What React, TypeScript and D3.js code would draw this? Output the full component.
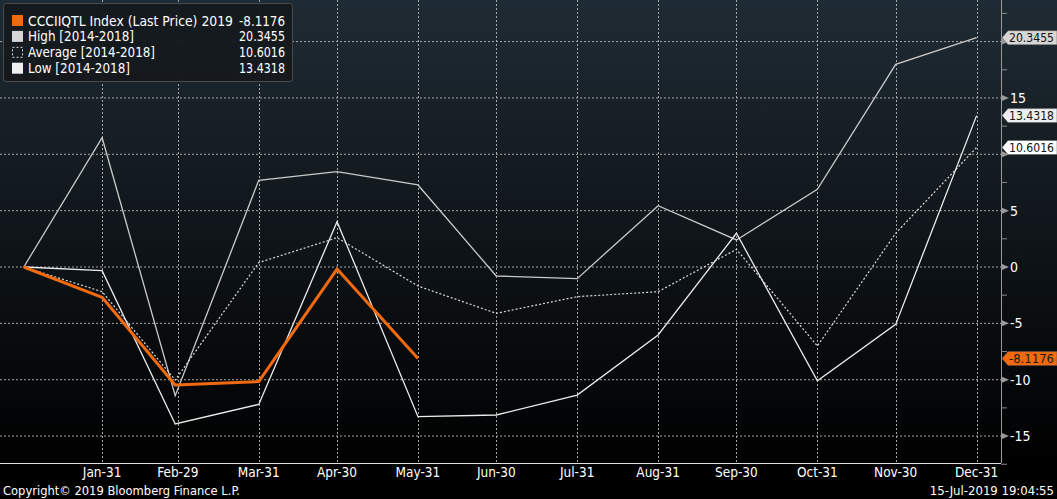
import React from "react";
import * as d3 from "d3";

const pointDates = ["2020-01-01", "2020-01-31", "2020-02-28", "2020-03-31", "2020-04-30", "2020-05-31", "2020-06-30", "2020-07-31", "2020-08-31", "2020-09-30", "2020-10-31", "2020-11-30", "2020-12-31"];
const tickDates = ["2020-01-31", "2020-02-29", "2020-03-31", "2020-04-30", "2020-05-31", "2020-06-30", "2020-07-31", "2020-08-31", "2020-09-30", "2020-10-31", "2020-11-30", "2020-12-31"];
const tickLabels = ["Jan-31", "Feb-29", "Mar-31", "Apr-30", "May-31", "Jun-30", "Jul-31", "Aug-31", "Sep-30", "Oct-31", "Nov-30", "Dec-31"];

const lastPrice = [0, -2.69, -10.47, -10.17, -0.18, -8.1176];
const high = [0, 11.47, -11.42, 7.69, 8.46, 7.28, -0.8, -1.03, 5.44, 2.4, 6.89, 17.98, 20.3455];
const average = [0, -2.19, -10.03, 0.39, 2.6, -1.69, -4.11, -2.63, -2.19, 1.57, -7.01, 2.99, 10.6016];
const low = [0, -0.33, -13.93, -12.19, 4.02, -13.28, -13.13, -11.36, -6.03, 2.99, -10.09, -5.09, 13.4318];

const yMajor = [-15, -10, -5, 0, 5, 10, 15, 20];
const yMinor = [-17.5, -12.5, -7.5, -2.5, 2.5, 7.5, 12.5, 17.5, 22.5];

const legendNames = ["CCCIIQTL Index (Last Price) 2019", "High [2014-2018]", "Average [2014-2018]", "Low [2014-2018]"];
const legendValues = ["-8.1176", "20.3455", "10.6016", "13.4318"];

const W = 1057, H = 499;
const plotRight = 1001, plotBottom = 463;
const ORANGE = "#f26a10";
const FONT = "'Liberation Sans Narrow', 'DejaVu Sans Condensed', 'Roboto Condensed', 'Liberation Sans', sans-serif";

// approximate rendered widths of legend texts (px)
const legendNameWidths = [205, 106, 127, 102];

export default function App() {
  const parse = d3.timeParse("%Y-%m-%d");
  const x = d3.scaleTime().domain([parse("2020-01-01")!, parse("2020-12-31")!]).range([23.8, 976.6]);
  const y = d3.scaleLinear().domain([-17.39, 23.69]).range([plotBottom, 0]);
  const dates = pointDates.map((d) => parse(d)!);
  const line = d3.line<number>().x((_, i) => x(dates[i])).y((v) => y(v));

  const series = [
    { vals: high, color: "#c9c9c9", dash: undefined, w: 1.3 },
    { vals: average, color: "#dcdcdc", dash: "2,2", w: 1.2 },
    { vals: low, color: "#ececec", dash: undefined, w: 1.3 },
  ];

  const markers = [
    { v: 20.3455, label: "20.3455", fill: "#d6d6d6", text: "#111" },
    { v: 13.4318, label: "13.4318", fill: "#eeeeee", text: "#111" },
    { v: 10.6016, label: "10.6016", fill: "#ffffff", text: "#111" },
    { v: -8.1176, label: "-8.1176", fill: ORANGE, text: "#1a1a1a" },
  ];

  return (
    <svg width={W} height={H} style={{ position: "absolute", left: 0, top: 0, background: "#000" }} fontFamily={FONT}>
      <defs>
        <linearGradient id="bg" x1="0" y1="0" x2="0" y2="1">
          <stop offset="0%" stopColor="#1f2b34" />
          <stop offset="100%" stopColor="#000000" />
        </linearGradient>
      </defs>
      <rect x={0} y={0} width={W} height={plotBottom} fill="url(#bg)" />
      <rect x={0} y={plotBottom} width={W} height={H - plotBottom} fill="#000" />

      {/* grid */}
      {yMajor.map((v) => (
        <line key={"gy" + v} x1={0} x2={plotRight} y1={y(v)} y2={y(v)} stroke="#a8a8a8" strokeWidth={1} strokeDasharray="2,2" />
      ))}
      {tickDates.map((d) => {
        const xx = Math.round(x(parse(d)!)) + 0.5;
        return <line key={"gx" + d} x1={xx} x2={xx} y1={0} y2={plotBottom} stroke="#a8a8a8" strokeWidth={1} strokeDasharray="2,2" />;
      })}

      {/* series */}
      {series.map((s, i) => (
        <path key={"s" + i} d={line(s.vals)!} fill="none" stroke={s.color} strokeWidth={s.w} strokeDasharray={s.dash} />
      ))}
      <path d={line(lastPrice)!} fill="none" stroke={ORANGE} strokeWidth={3} strokeLinejoin="round" />

      {/* axes */}
      <line x1={0} x2={plotRight} y1={plotBottom + 0.5} y2={plotBottom + 0.5} stroke="#e0e0e0" strokeWidth={1} />
      <line x1={plotRight + 0.5} x2={plotRight + 0.5} y1={0} y2={plotBottom} stroke="#9a9a9a" strokeWidth={1} />
      {yMinor.map((v) => (
        <line key={"mn" + v} x1={plotRight} x2={plotRight + 6} y1={y(v)} y2={y(v)} stroke="#8a8a8a" strokeWidth={1} />
      ))}
      {yMajor.map((v) => (
        <path key={"tri" + v} d={`M${plotRight + 1},${y(v) - 3} L${plotRight + 8},${y(v)} L${plotRight + 1},${y(v) + 3} Z`} fill="#9a9a9a" />
      ))}
      {yMajor.filter((v) => v !== 20 && v !== 10).map((v) => (
        <text key={"yl" + v} x={plotRight + 9} y={y(v)} dy="0.36em" fill="#ffffff" fontSize={14}>{v < 0 ? "-" + Math.abs(v) : v}</text>
      ))}

      {markers.map((m) => {
        const cy = y(m.v);
        return (
          <g key={m.label}>
            <path d={`M${plotRight + 1},${cy} L${plotRight + 7},${cy - 7} L${W},${cy - 7} L${W},${cy + 7} L${plotRight + 7},${cy + 7} Z`} fill={m.fill} stroke="#555" strokeWidth={0.5} />
            <text x={plotRight + 8} y={cy} dy="0.36em" fill={m.text} fontSize={13} textLength={45} lengthAdjust="spacingAndGlyphs">{m.label}</text>
          </g>
        );
      })}

      {/* x labels */}
      {tickDates.map((d, i) => (
        <text key={"xl" + d} x={x(parse(d)!)} y={477} textAnchor="middle" fill="#ffffff" fontSize={13.5}>{tickLabels[i]}</text>
      ))}

      {/* footer */}
      <text x={3} y={495} fill="#ffffff" fontSize={13} textLength={237} lengthAdjust="spacingAndGlyphs">Copyright© 2019 Bloomberg Finance L.P.</text>
      <text x={1054} y={495} textAnchor="end" fill="#ffffff" fontSize={13}>15-Jul-2019 19:04:55</text>

      {/* legend */}
      <rect x={3.5} y={3.5} width={289} height={78} rx={3} fill="#15191d" fillOpacity={0.95} stroke="#4a4a4a" strokeWidth={1} />
      {legendNames.map((n, i) => {
        const cy = 20.5 + i * 15.9;
        const sw =
          i === 0 ? <rect x={12} y={cy - 5.5} width={11} height={11} fill={ORANGE} /> :
          i === 1 ? <rect x={12} y={cy - 5.5} width={11} height={11} fill="#d6d6d6" /> :
          i === 2 ? <rect x={12.5} y={cy - 5} width={10} height={10} fill="none" stroke="#ddd" strokeDasharray="2,2" /> :
          <rect x={12} y={cy - 5.5} width={11} height={11} fill="#f0f0f0" />;
        return (
          <g key={n}>
            {sw}
            <text x={28} y={cy} dy="0.36em" fill="#ffffff" fontSize={14} textLength={legendNameWidths[i]} lengthAdjust="spacingAndGlyphs">{n}</text>
            <text x={285} y={cy} dy="0.36em" textAnchor="end" fill="#ffffff" fontSize={14} textLength={46} lengthAdjust="spacingAndGlyphs">{legendValues[i]}</text>
          </g>
        );
      })}
    </svg>
  );
}
